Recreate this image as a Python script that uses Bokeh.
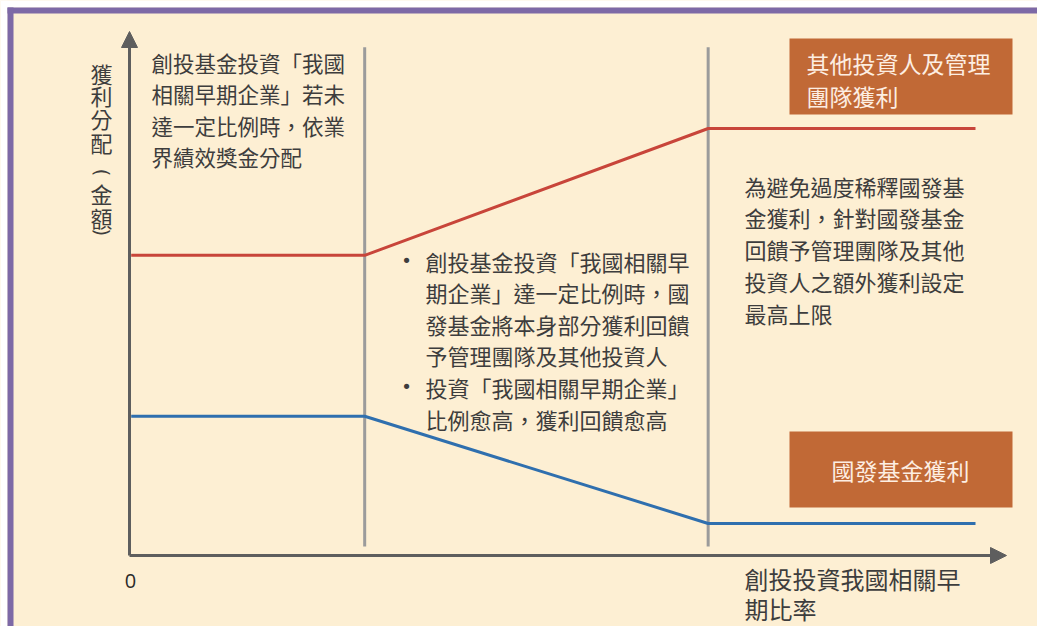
import math
from bokeh.plotting import figure
from bokeh.models import Range1d, Arrow, NormalHead
from bokeh.core.properties import value
from bokeh.embed import file_html
from bokeh.resources import INLINE

# ---- data (schematic units: ratio 0-100, profit 0-100) ----
ratio_breaks = [0.2, 27.8, 68.4, 100.0]
others_profit = [70.3, 70.3, 100.0, 100.0]   # 其他投資人及管理團隊獲利
fund_profit = [32.6, 32.6, 7.5, 7.5]         # 國發基金獲利
threshold_ratios = [27.8, 68.4]
threshold_span = [2.1, 119.0]

y_label_chars = ["獲", "利", "分", "配", "金", "額"]
y_label_parens = ["(", ")"]
x_label = ["創投投資我國相關早", "期比率"]
zero_label = "0"
note_left = ["創投基金投資「我國", "相關早期企業」若未", "達一定比例時，依業", "界績效獎金分配"]
note_mid = ["創投基金投資「我國相關早", "期企業」達一定比例時，國", "發基金將本身部分獲利回饋",
            "予管理團隊及其他投資人", "投資「我國相關早期企業」", "比例愈高，獲利回饋愈高"]
note_mid_bullets = [0, 4]
note_right = ["為避免過度稀釋國發基", "金獲利，針對國發基金", "回饋予管理團隊及其他", "投資人之額外獲利設定", "最高上限"]
box_top = ["其他投資人及管理", "團隊獲利"]
box_bottom = "國發基金獲利"

# ---- layout helpers (picture pixel -> data units) ----
W, H = 1037, 626
OX, OY = 129, 555       # axis origin in pixels
SX, SY = 8.46, 4.27     # pixels per data unit


def X(px):
    return (px - OX) / SX


def Y(py):
    return (OY - py) / SY


FONT = value("Noto Sans CJK TC")
TXT = "#3d3d3d"
CREAM = "#fdefd3"
ORANGE = "#c16936"
PURPLE = "#7d69a6"

p = figure(width=W, height=H, output_backend="svg", toolbar_location=None,
           x_range=Range1d(X(0), X(W)), y_range=Range1d(Y(H), Y(0)),
           min_border=0, background_fill_color=CREAM, border_fill_color=CREAM,
           outline_line_color=None)
p.axis.visible = False
p.grid.visible = False

# white margin + purple frame (top + left)
p.quad(left=[X(0), X(0)], right=[X(W), X(7)], top=[Y(0), Y(0)], bottom=[Y(7), Y(H)],
       fill_color="white", line_color=None)
p.quad(left=[X(7), X(7)], right=[X(W), X(13)], top=[Y(7), Y(7)], bottom=[Y(13), Y(H)],
       fill_color=PURPLE, line_color=None)

# threshold lines
for r in threshold_ratios:
    p.line([r, r], threshold_span, line_color="#9b9b9b", line_width=3)

# axes with arrows
p.add_layout(Arrow(end=NormalHead(size=16, fill_color="#5e5e5e", line_color="#5e5e5e"),
                   x_start=0, y_start=0, x_end=0, y_end=Y(31),
                   line_color="#5e5e5e", line_width=3))
p.add_layout(Arrow(end=NormalHead(size=16, fill_color="#5e5e5e", line_color="#5e5e5e"),
                   x_start=0, y_start=0, x_end=X(1006), y_end=0,
                   line_color="#5e5e5e", line_width=3))

# series
p.line(ratio_breaks, others_profit, line_color="#c8453a", line_width=3)
p.line(ratio_breaks, fund_profit, line_color="#2f6fae", line_width=3)

# boxes
p.quad(left=[X(789), X(789)], right=[X(1012), X(1012)], top=[Y(38), Y(431)], bottom=[Y(114), Y(507)],
       fill_color=ORANGE, line_color=None)
p.text(x=[X(806)] * 2, y=[Y(62), Y(95)], text=box_top, text_font=FONT, text_font_size="23px",
       text_color="#fdeee2", text_baseline="middle", text_align="left")
p.text(x=[X(900)], y=[Y(469)], text=[box_bottom], text_font=FONT, text_font_size="23px",
       text_color="#fdeee2", text_baseline="middle", text_align="center")

# y label (vertical, parentheses rotated)
ys = [72, 94, 117, 141, 192, 216]
p.text(x=[X(101)] * len(y_label_chars), y=[Y(v) for v in ys], text=y_label_chars,
       text_font=FONT, text_font_size="22px", text_color=TXT, text_baseline="middle", text_align="center")
p.text(x=[X(101)] * 2, y=[Y(172), Y(232)], text=y_label_parens, angle=-math.pi / 2,
       text_font=value("DejaVu Sans"), text_font_size="20px", text_color=TXT,
       text_baseline="middle", text_align="center")

# notes
p.text(x=[X(151)] * len(note_left), y=[Y(62 + 31.3 * i) for i in range(len(note_left))], text=note_left,
       text_font=FONT, text_font_size="21.5px", text_color=TXT, text_baseline="middle", text_align="left")
p.text(x=[X(425)] * len(note_mid), y=[Y(260 + 31.6 * i) for i in range(len(note_mid))], text=note_mid,
       text_font=FONT, text_font_size="22px", text_color=TXT, text_baseline="middle", text_align="left")
p.text(x=[X(406)] * len(note_mid_bullets), y=[Y(260 + 31.6 * i) for i in note_mid_bullets],
       text=["•"] * len(note_mid_bullets), text_font=value("DejaVu Sans"), text_font_size="18px",
       text_color=TXT, text_baseline="middle", text_align="center")
p.text(x=[X(744)] * len(note_right), y=[Y(185 + 31.8 * i) for i in range(len(note_right))], text=note_right,
       text_font=FONT, text_font_size="22px", text_color=TXT, text_baseline="middle", text_align="left")

# axis labels
p.text(x=[X(744)] * 2, y=[Y(578), Y(608)], text=x_label, text_font=FONT, text_font_size="24px",
       text_color=TXT, text_baseline="middle", text_align="left")
p.text(x=[X(130)], y=[Y(580)], text=[zero_label], text_font=value("Open Sans"), text_font_size="20px",
       text_color="#2a2a2a", text_baseline="middle", text_align="center")

open("out.html", "w").write(file_html(p, INLINE))
